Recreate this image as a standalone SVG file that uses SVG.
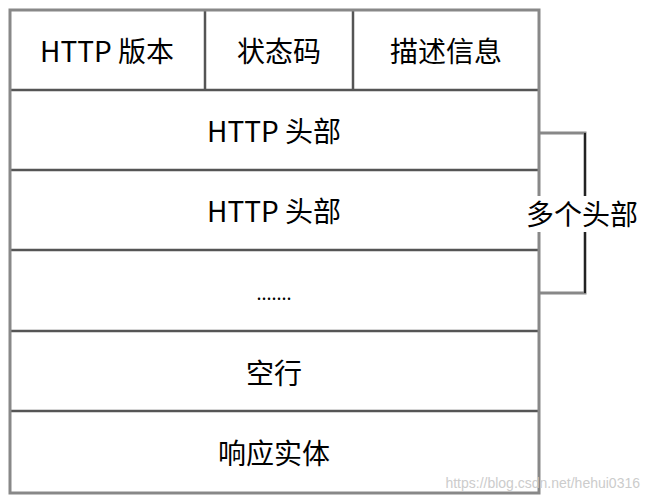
<svg xmlns="http://www.w3.org/2000/svg" width="651" height="503" viewBox="0 0 651 503">
<style>
.t{font-family:"Noto Sans CJK SC","Liberation Sans",sans-serif;font-size:28px;fill:#000;text-anchor:middle;dominant-baseline:central}
.ln{stroke:#555;stroke-width:2.5;fill:none}
</style>
<rect width="651" height="503" fill="#fff"/>
<g id="connectors">
<polyline points="539,133 585,133 585,293 539,293" fill="none" stroke="#888" stroke-width="3"/>
<line x1="585" y1="133" x2="585" y2="293" stroke="#222" stroke-width="2"/>
</g>
<g id="table">
<line class="ln" x1="10" y1="90" x2="539" y2="90"/>
<line class="ln" x1="10" y1="170" x2="539" y2="170"/>
<line class="ln" x1="10" y1="250" x2="539" y2="250"/>
<line class="ln" x1="10" y1="331" x2="539" y2="331"/>
<line class="ln" x1="10" y1="411" x2="539" y2="411"/>
<line class="ln" x1="205" y1="10" x2="205" y2="90"/>
<line class="ln" x1="353" y1="10" x2="353" y2="90"/>
<rect x="10" y="10" width="529" height="483" fill="none" stroke="#888" stroke-width="3"/>
</g>
<g id="n1"><text class="t" x="107" y="50">HTTP 版本</text></g>
<g id="n2"><text class="t" x="279" y="50">状态码</text></g>
<g id="n3"><text class="t" x="446" y="50">描述信息</text></g>
<g id="n4"><text class="t" x="274" y="130">HTTP 头部</text></g>
<g id="n5"><text class="t" x="274" y="210">HTTP 头部</text></g>
<g id="n6"><text class="t" x="274" y="292" style="font-size:18px">.......</text></g>
<g id="n7"><text class="t" x="274" y="372">空行</text></g>
<g id="n8"><text class="t" x="274" y="452">响应实体</text></g>
<g id="label">
<rect x="522" y="196" width="122" height="36" fill="#fff"/>
<text class="t" x="582" y="213">多个头部</text>
</g>
<text x="640" y="488" style="font-family:'Liberation Sans',sans-serif;font-size:14px;fill:#ccc;text-anchor:end">https://blog.csdn.net/hehui0316</text>
</svg>
